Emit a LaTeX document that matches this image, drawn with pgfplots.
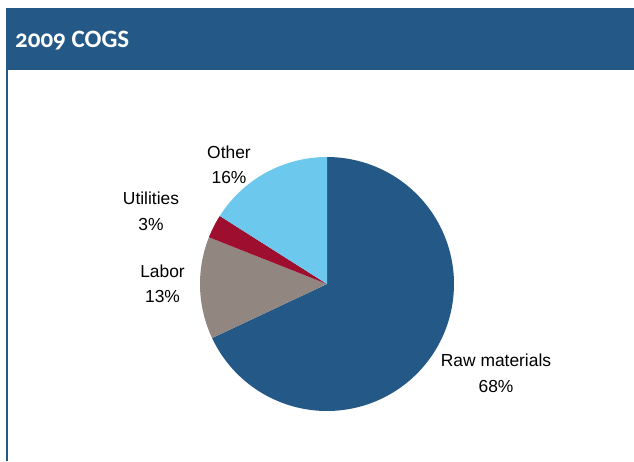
\documentclass[border=0pt]{standalone}
\usepackage{pgfplots}
\pgfplotsset{compat=1.18}
\usepackage{fontspec}
\setmainfont{Liberation Sans}
\newfontfamily\titlefont[Numbers=OldStyle]{Carlito}

\definecolor{hdr}{RGB}{36,89,135}
\definecolor{rawc}{RGB}{36,89,135}
\definecolor{laborc}{RGB}{145,135,128}
\definecolor{utilc}{RGB}{158,14,47}
\definecolor{otherc}{RGB}{108,200,236}

\begin{document}
\begin{tikzpicture}
    % shares in percent, clockwise from 12 o'clock
    \def\pRaw{68}
    \def\pLabor{13}
    \def\pUtil{3}
    \def\pOther{16}
    \pgfmathsetmacro{\aA}{90}
    \pgfmathsetmacro{\aB}{\aA-3.6*\pRaw}
    \pgfmathsetmacro{\aC}{\aB-3.6*\pLabor}
    \pgfmathsetmacro{\aD}{\aC-3.6*\pUtil}
    \pgfmathsetmacro{\aE}{\aD-3.6*\pOther}
    \begin{axis}[
        scale only axis,
        width=634pt, height=461pt,
        xmin=0, xmax=634, ymin=0, ymax=461,
        y dir=reverse,
        hide axis,
        clip=false,
    ]
        \path (axis cs:0,0) rectangle (axis cs:634,461);
        \fill[hdr] (axis cs:6,8) rectangle (axis cs:634,70);
        \fill[hdr] (axis cs:6,70) rectangle (axis cs:8,461);
        \node[anchor=base west, text=white, inner sep=0pt,
              font=\titlefont\bfseries\fontsize{25}{29}\selectfont]
              at (axis cs:15,47) {2009 COGS};

        \addplot[draw=none, fill=rawc, domain=\aB:\aA, samples=120]
            ({327+127*cos(x)}, {284-127*sin(x)}) -- (axis cs:327,284) -- cycle;
        \addplot[draw=none, fill=laborc, domain=\aC+360:\aB+360, samples=40]
            ({327+127*cos(x)}, {284-127*sin(x)}) -- (axis cs:327,284) -- cycle;
        \addplot[draw=none, fill=utilc, domain=\aD+360:\aC+360, samples=15]
            ({327+127*cos(x)}, {284-127*sin(x)}) -- (axis cs:327,284) -- cycle;
        \addplot[draw=none, fill=otherc, domain=\aE+360:\aD+360, samples=40]
            ({327+127*cos(x)}, {284-127*sin(x)}) -- (axis cs:327,284) -- cycle;

        \begin{scope}[every node/.style={anchor=base, inner sep=0pt,
                      font=\fontsize{17.4}{20}\selectfont}]
            \node at (axis cs:229,158) {Other};
            \node at (axis cs:229,183) {16\%};
            \node at (axis cs:151,204) {Utilities};
            \node at (axis cs:151,230) {3\%};
            \node at (axis cs:162.5,277.3) {Labor};
            \node at (axis cs:162.5,302.7) {13\%};
            \node at (axis cs:496,366) {Raw materials};
            \node at (axis cs:496,392.7) {68\%};
        \end{scope}
    \end{axis}
\end{tikzpicture}
\end{document}
